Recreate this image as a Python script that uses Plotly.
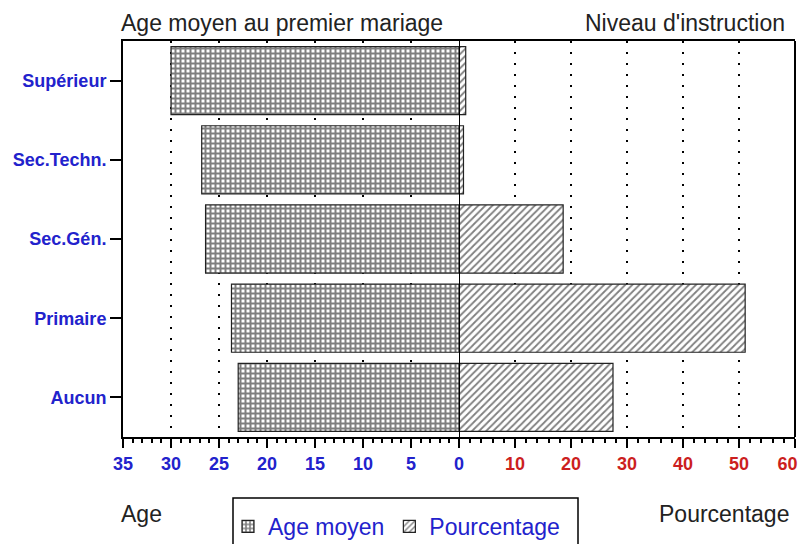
import plotly.graph_objects as go

categories = ["Supérieur", "Sec.Techn.", "Sec.Gén.", "Primaire", "Aucun"]
age_moyen = [30.0, 26.8, 26.4, 23.7, 23.0]
pourcentage = [1.2, 0.8, 18.6, 51.1, 27.5]
age_ticks = [35, 30, 25, 20, 15, 10, 5, 0]
pct_ticks = [0, 10, 20, 30, 40, 50, 60]

BLUE = "#2222cc"
RED = "#cc1f1f"
FONT = "Liberation Sans, Arial, sans-serif"

# page offset caused by default body margin
OFF = 8
W, H = 807 - 2 * OFF, 552 - 2 * OFF
L, T = 123 - OFF, 41 - OFF
R = W - (795 - OFF)
B = H - (437 - OFF)
PW, PH = W - L - R, H - T - B


def px(x):
    return (x - OFF - L) / PW


def py(y):
    return (H - B - (y - OFF)) / PH


NB = "\u00a0"
pct_text = []
for v in pct_ticks:
    if v == 0:
        pct_text.append("")
    elif v == pct_ticks[-1]:
        pct_text.append(str(v) + NB * 3)
    else:
        pct_text.append(str(v))

fig = go.Figure()
fig.add_trace(go.Bar(
    y=categories, x=age_moyen, orientation="h", xaxis="x", yaxis="y",
    name="Age moyen", width=0.86,
    marker=dict(color="white", line=dict(color="#222", width=1.2),
                pattern=dict(shape="+", size=5, solidity=0.64, fgcolor="black", bgcolor="white")),
))
fig.add_trace(go.Bar(
    y=categories, x=pourcentage, orientation="h", xaxis="x2", yaxis="y",
    name="Pourcentage", width=0.86,
    marker=dict(color="white", line=dict(color="#222", width=1.2),
                pattern=dict(shape="/", size=5, solidity=0.36, fgcolor="black", bgcolor="white")),
))

grid = dict(showgrid=True, gridcolor="black", gridwidth=2, griddash="2px,9px")
fig.update_layout(
    width=W, height=H,
    margin=dict(l=L, r=R, t=T, b=B, autoexpand=False),
    paper_bgcolor="white", plot_bgcolor="white",
    font=dict(family=FONT),
    showlegend=True,
    legend=dict(orientation="h", x=px(228), y=py(505), xanchor="left", yanchor="top",
                font=dict(size=23, color=BLUE, family=FONT), bgcolor="rgba(0,0,0,0)",
                borderwidth=0, itemwidth=30, tracegroupgap=0),
    xaxis=dict(domain=[0, 0.5], range=[35, 0], tickvals=age_ticks, ticks="outside",
               ticklen=9, tickwidth=2, tickcolor="black", automargin=False, ticklabeloverflow="allow",
               minor=dict(dtick=1, ticks="outside", ticklen=4, tickwidth=2, tickcolor="black", showgrid=False),
               showline=True, linewidth=2, linecolor="black", mirror=True, zeroline=False,
               tickfont=dict(size=18, color=BLUE, family=FONT, weight="bold"), anchor="y", **grid),
    xaxis2=dict(domain=[0.5, 1], range=[0, 60], tickvals=pct_ticks, ticktext=pct_text, ticks="outside",
                ticklen=9, tickwidth=2, tickcolor="black", automargin=False, ticklabeloverflow="allow",
                minor=dict(dtick=2, ticks="outside", ticklen=4, tickwidth=2, tickcolor="black", showgrid=False),
                showline=True, linewidth=2, linecolor="black", mirror=True, zeroline=False,
                tickfont=dict(size=18, color=RED, family=FONT, weight="bold"), anchor="y", **grid),
    yaxis=dict(categoryorder="array", categoryarray=categories, range=[4.5, -0.5],
               ticks="outside", ticklen=11, tickwidth=2, tickcolor="black", automargin=False,
               showline=True, linewidth=2, linecolor="black", showgrid=False, zeroline=False,
               tickfont=dict(size=18, color=BLUE, family=FONT, weight="bold"), anchor="x"),
    bargap=0.14,
)

# middle zero line and right frame
fig.add_shape(type="line", xref="x2", yref="paper", x0=0, x1=0, y0=0, y1=1,
              line=dict(color="black", width=2))
fig.add_shape(type="line", xref="paper", yref="paper", x0=1, x1=1, y0=0, y1=1,
              line=dict(color="black", width=2))
# legend box
fig.add_shape(type="rect", xref="paper", yref="paper", x0=px(233), x1=px(578), y0=py(575), y1=py(498),
              line=dict(color="black", width=1.5))

TITLE = dict(size=23, color="#222", family=FONT)
fig.add_annotation(text="Age moyen au premier mariage", xref="paper", yref="paper",
                   x=px(119), y=py(23), xanchor="left", yanchor="middle", showarrow=False, font=TITLE)
fig.add_annotation(text="Niveau d'instruction", xref="paper", yref="paper",
                   x=px(787), y=py(23), xanchor="right", yanchor="middle", showarrow=False, font=TITLE)
fig.add_annotation(text="Age", xref="paper", yref="paper",
                   x=px(119), y=py(514), xanchor="left", yanchor="middle", showarrow=False, font=TITLE)
fig.add_annotation(text="Pourcentage", xref="paper", yref="paper",
                   x=px(791), y=py(514), xanchor="right", yanchor="middle", showarrow=False, font=TITLE)

fig.write_html("out.html")
